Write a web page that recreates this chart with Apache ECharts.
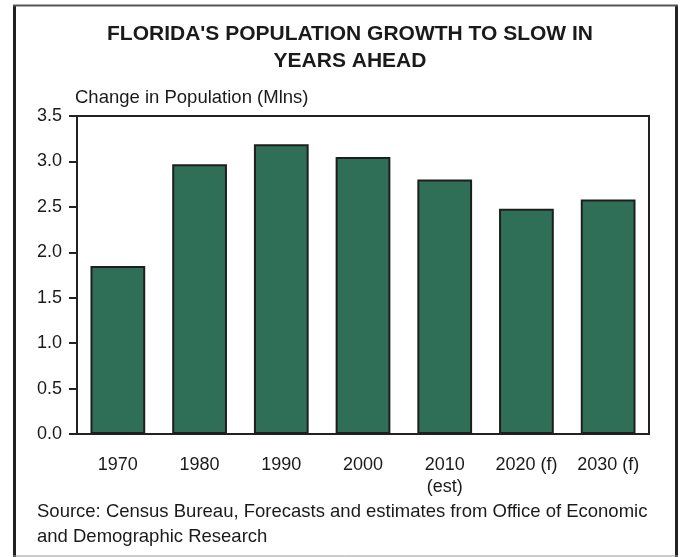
<!DOCTYPE html>
<html>
<head>
<meta charset="utf-8">
<script src="https://cdn.jsdelivr.net/npm/echarts@6/dist/echarts.min.js"></script>
<style>
    html, body { margin: 0; padding: 0; background: #fff; }
    #chart { width: 681px; height: 557px; }
</style>
</head>
<body>
<div id="chart"></div>
<script>
    var years = ['1970', '1980', '1990', '2000', '2010\n(est)', '2020 (f)', '2030 (f)'];
    var popChange = [1.85, 2.97, 3.19, 3.05, 2.80, 2.48, 2.58];
    var yTicks = { min: 0, max: 3.5, step: 0.5 };

    var font = 'Liberation Sans, Arial, sans-serif';
    var chart = echarts.init(document.getElementById('chart'));

    var option = {
        backgroundColor: '#fff',
        title: {
            text: "FLORIDA'S POPULATION GROWTH TO SLOW IN\nYEARS AHEAD",
            left: 345,
            textAlign: 'center',
            top: 16,
            textStyle: {
                fontFamily: font,
                fontSize: 21,
                fontWeight: 'bold',
                color: '#1a1a1a',
                lineHeight: 27
            }
        },
        grid: {
            left: 77,
            top: 116,
            right: 32,
            bottom: 123,
            show: true,
            borderColor: '#222',
            borderWidth: 2,
            backgroundColor: 'transparent'
        },
        xAxis: {
            type: 'category',
            data: years,
            axisLine: { lineStyle: { color: '#222', width: 2 } },
            axisTick: { show: false },
            axisLabel: {
                fontFamily: font,
                fontSize: 18,
                color: '#1a1a1a',
                margin: 20,
                lineHeight: 22
            }
        },
        yAxis: {
            type: 'value',
            min: yTicks.min,
            max: yTicks.max,
            interval: yTicks.step,
            name: 'Change in Population (Mlns)',
            nameLocation: 'end',
            nameGap: 9,
            nameTextStyle: {
                fontFamily: font,
                fontSize: 18.5,
                color: '#1a1a1a',
                align: 'left',
                padding: [0, 0, 0, -2]
            },
            axisLine: { show: true, lineStyle: { color: '#222', width: 2 } },
            axisTick: { show: true, length: 8, lineStyle: { color: '#222', width: 2 } },
            splitLine: { show: false },
            axisLabel: {
                fontFamily: font,
                fontSize: 18,
                color: '#1a1a1a',
                margin: 15,
                formatter: function (v) { return v.toFixed(1); }
            }
        },
        series: [{
            type: 'bar',
            data: popChange,
            barWidth: '67%',
            itemStyle: {
                color: '#2f6f58',
                borderColor: '#1e1e1e',
                borderWidth: 2
            }
        }],
        graphic: [
            // outer frame
            { type: 'line', shape: { x1: 14.5, y1: 5, x2: 14.5, y2: 557 }, style: { stroke: '#222', lineWidth: 3 } },
            { type: 'line', shape: { x1: 676.5, y1: 5, x2: 676.5, y2: 557 }, style: { stroke: '#222', lineWidth: 3 } },
            { type: 'line', shape: { x1: 13, y1: 5.5, x2: 678, y2: 5.5 }, style: { stroke: '#555', lineWidth: 2 } },
            { type: 'line', shape: { x1: 13, y1: 556, x2: 678, y2: 556 }, style: { stroke: '#999', lineWidth: 1 } },
            {
                type: 'text',
                left: 37,
                top: 499,
                style: {
                    text: 'Source: Census Bureau, Forecasts and estimates from Office of Economic\nand Demographic Research',
                    font: '18.5px ' + font,
                    fill: '#1a1a1a',
                    lineHeight: 25
                }
            }
        ]
    };

    chart.setOption(option);
</script>
</body>
</html>
